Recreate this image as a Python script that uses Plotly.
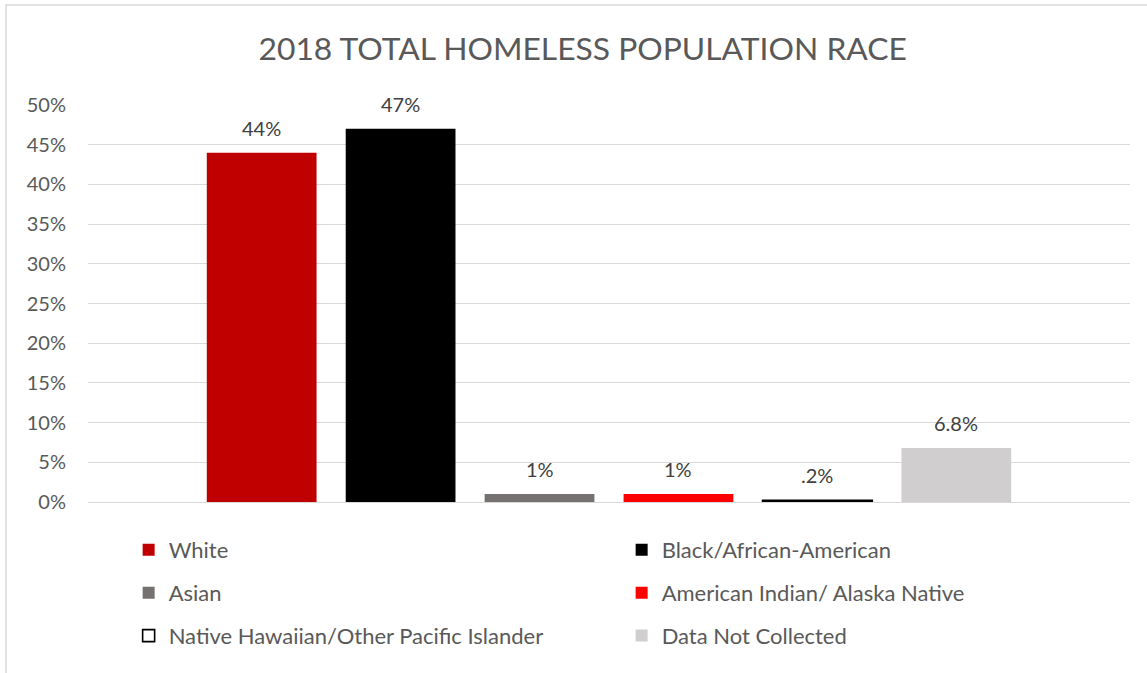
import plotly.graph_objects as go

# Race breakdown of the 2018 total homeless population
categories = [
    "White",
    "Black/African-American",
    "Asian",
    "American Indian/ Alaska Native",
    "Native Hawaiian/Other Pacific Islander",
    "Data Not Collected",
]
shares = [0.44, 0.47, 0.01, 0.01, 0.002, 0.068]
share_labels = ["44%", "47%", "1%", "1%", ".2%", "6.8%"]
y_ticks = [0, 0.05, 0.10, 0.15, 0.20, 0.25, 0.30, 0.35, 0.40, 0.45, 0.50]

fills = ["#C00000", "#000000", "#767171", "#FF0000", "#FFFFFF", "#D0CECE"]
outlines = ["#C00000", "#000000", "#767171", "#FF0000", "#000000", "#D0CECE"]
outline_widths = [0, 0, 0, 0, 1.6, 0]

FONT = "Lato"
TEXT_GREY = "#595959"

fig = go.Figure()

# legend rows: two entries per row, three rows
legend_ids = ["legend", "legend", "legend2", "legend2", "legend3", "legend3"]

for i, (name, val) in enumerate(zip(categories, shares)):
    fig.add_trace(go.Bar(
        x=[i],
        y=[val],
        name=name,
        width=0.79,
        marker=dict(color=fills[i], line=dict(color=outlines[i], width=outline_widths[i])),
        legend=legend_ids[i],
        hovertemplate=f"{name}: {share_labels[i]}<extra></extra>",
    ))
    fig.add_annotation(
        x=i, y=val, xref="x", yref="y",
        text=share_labels[i], showarrow=False,
        yanchor="middle", yshift=25,
        font=dict(family=FONT, size=20, color="#404040"),
    )

legend_common = dict(
    orientation="h",
    entrywidth=448,
    font=dict(family=FONT, size=22, color=TEXT_GREY),
    bgcolor="rgba(0,0,0,0)",
    xanchor="left",
    yanchor="middle",
    x=0.039,
    traceorder="normal",
)

fig.update_layout(
    width=1147,
    height=673,
    margin=dict(l=88, r=17, t=105, b=171),
    paper_bgcolor="white",
    plot_bgcolor="white",
    barmode="overlay",
    title=dict(
        text="2018 TOTAL HOMELESS POPULATION RACE",
        x=0.508, xanchor="center",
        y=0.928, yanchor="middle",
        font=dict(family=FONT, size=31.8, color=TEXT_GREY),
    ),
    xaxis=dict(
        range=[-1.25, 6.25],
        showticklabels=False,
        showgrid=False,
        zeroline=False,
        showline=False,
        fixedrange=True,
    ),
    yaxis=dict(
        range=[0, 0.5],
        tickvals=y_ticks,
        tickformat=".0%",
        showgrid=True,
        gridcolor="#D9D9D9",
        gridwidth=1,
        zeroline=True,
        zerolinecolor="#D9D9D9",
        zerolinewidth=1,
        showline=False,
        ticks="",
        ticklabelstandoff=21,
        tickfont=dict(family=FONT, size=20, color=TEXT_GREY),
    ),
    legend=dict(legend_common, y=-0.121),
    legend2=dict(legend_common, y=-0.229),
    legend3=dict(legend_common, y=-0.337),
    showlegend=True,
)

# chart area frame
fig.add_shape(
    type="rect", xref="paper", yref="paper",
    x0=(6 - 88) / 1042, x1=(1160 - 88) / 1042,
    y0=-(690 - 502) / 397, y1=1 + (105 - 5) / 397,
    line=dict(color="#D9D9D9", width=1.5),
    fillcolor="rgba(0,0,0,0)",
    layer="below",
)

fig.write_html("out.html")
